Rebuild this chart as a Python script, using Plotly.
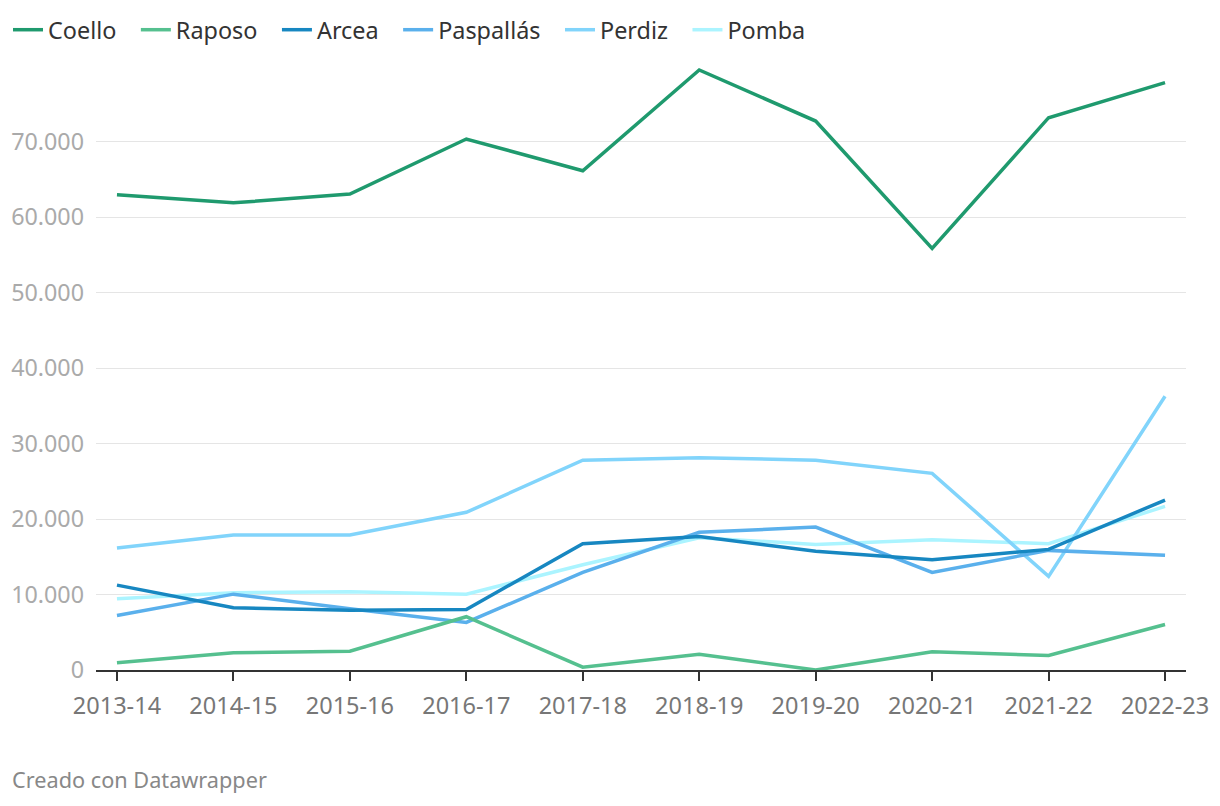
import plotly.graph_objects as go

seasons = ["2013-14", "2014-15", "2015-16", "2016-17", "2017-18",
           "2018-19", "2019-20", "2020-21", "2021-22", "2022-23"]

coello = [62970, 61900, 63060, 70360, 66150, 79510, 72740, 55860, 73180, 77820]
raposo = [950, 2280, 2500, 7060, 370, 2100, 0, 2410, 1920, 6030]
arcea = [11250, 8250, 7930, 8020, 16740, 17700, 15720, 14620, 15980, 22520]
paspallas = [7230, 10050, 8110, 6300, 12930, 18240, 18940, 12930, 15850, 15190]
perdiz = [16150, 17880, 17880, 20890, 27790, 28140, 27790, 26060, 12400, 36270]
pomba = [9440, 10240, 10370, 10050, 13950, 17530, 16640, 17260, 16740, 21680]

series_names = ["Coello", "Raposo", "Arcea", "Paspallás", "Perdiz", "Pomba"]
series_values = [coello, raposo, arcea, paspallas, perdiz, pomba]
colors = ["#1f9a6e", "#55c08f", "#1787c1", "#5ab0ec", "#81d4fb", "#abf4ff"]

y_ticks = [0, 10000, 20000, 30000, 40000, 50000, 60000, 70000]

x_idx = list(range(len(seasons)))

fig = go.Figure()
# draw in reverse so Coello is on top
for name, vals, col in reversed(list(zip(series_names, series_values, colors))):
    fig.add_trace(go.Scatter(
        x=x_idx, y=vals, name=name + "\u00a0\u00a0\u200a", mode="lines",
        line=dict(color=col, width=3.5),
    ))

fig.update_layout(
    width=1220, height=806,
    paper_bgcolor="white", plot_bgcolor="white",
    margin=dict(l=88, r=42, t=52, b=144, autoexpand=False),
    separators=",.",
    font=dict(family="Noto Sans, Open Sans, sans-serif", color="#333"),
    showlegend=True,
    legend=dict(
        orientation="h", traceorder="reversed",
        xref="container", yref="container",
        x=0.0, y=1.0, xanchor="left", yanchor="top",
        font=dict(size=23.4, color="#333"),
        itemwidth=30,
        bgcolor="rgba(0,0,0,0)",
    ),
    xaxis=dict(
        range=[-0.18, 9.18],
        tickmode="array", tickvals=x_idx, ticktext=seasons,
        showgrid=False, zeroline=False,
        showline=True, linecolor="#333", linewidth=2,
        ticks="outside", ticklen=9, tickwidth=2, tickcolor="#333",
        ticklabelstandoff=5,
        tickfont=dict(size=23.5, color="#777"),
        automargin=False,
        fixedrange=True,
    ),
    yaxis=dict(
        range=[0, 80826],
        tickmode="array", tickvals=y_ticks,
        tickformat=",d",
        showgrid=True, gridcolor="#e5e5e5", gridwidth=1,
        zeroline=False, showline=False,
        ticks="", ticklabelstandoff=11,
        tickfont=dict(size=23.3, color="#aaa"),
        automargin=False,
        fixedrange=True,
    ),
    annotations=[dict(
        text="Creado con Datawrapper", xref="paper", yref="paper",
        x=-0.0789, y=-0.1803, xanchor="left", yanchor="middle", showarrow=False,
        font=dict(size=21.7, color="#888"),
    )],
)

fig.write_html("out.html")
